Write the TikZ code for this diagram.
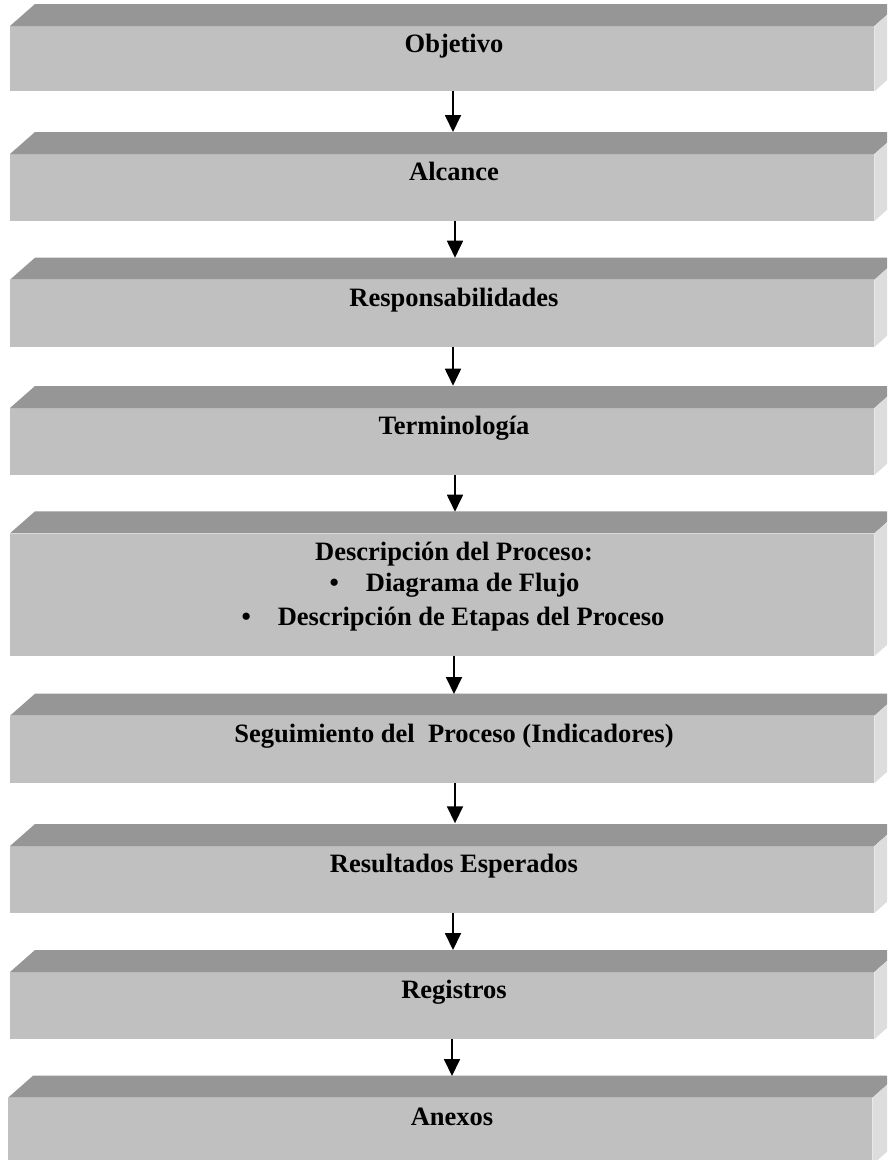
\documentclass[tikz,border=0pt]{standalone}
\usepackage{fontspec}
\setmainfont{Liberation Serif}
\usetikzlibrary{arrows.meta}
\definecolor{frontc}{HTML}{C0C0C0}
\definecolor{topc}{HTML}{969696}
\definecolor{sidec}{HTML}{DDDDDD}
\tikzset{
 frontbox/.style={fill=frontc, draw=none, rectangle, inner sep=0pt, minimum width=864pt, anchor=north west},
 topface/.style={fill=topc},
 sideface/.style={fill=sidec},
 lbl/.style={font=\fontsize{26.5}{32}\selectfont\bfseries, inner sep=0pt, anchor=base, text=black},
 arr/.style={-{Triangle[width=16pt,length=17pt]}, line width=1.8pt, black},
}
\newcommand\pbox[4]{% name, x, front, bottom
 \node[frontbox, minimum height={#4-#3}] (#1) at (#2,#3) {};
 \fill[topface] (#1.north west) -- ++(25,-22) -- ++(864,0) -- (#1.north east) -- cycle;
 \fill[sideface] (#1.north east) -- ++(25,-22) -- ++(0,#4-#3) -- (#1.south east) -- cycle;
}
\begin{document}
\begin{tikzpicture}[x=1pt,y=-1pt]
\useasboundingbox (0,0) rectangle (887,1160);
\clip (0,0) rectangle (887,1160);
\fill[white] (0,0) rectangle (887,1160);
% boxes
\pbox{b1}{10}{26}{91}
\pbox{b2}{10}{154}{220.7}
\pbox{b3}{10}{279.7}{346.7}
\pbox{b4}{10}{408}{474.7}
\pbox{b5}{10}{533.3}{655.7}
\pbox{b6}{10}{715.7}{782.7}
\pbox{b7}{10}{846}{912.7}
\pbox{b8}{10}{972}{1038.7}
\pbox{b9}{8}{1097.7}{1164.4}
% labels
\node[lbl] (l1) at (454,52.7) {Objetivo};
\node[lbl] (l2) at (454,180.7) {Alcance};
\node[lbl] (l3) at (454,306.5) {Responsabilidades};
\node[lbl] (l4) at (454,434.8) {Terminología};
\node[lbl] (l5a) at (454,560) {Descripción del Proceso:};
\node[lbl] (l5b) at (454.5,591.7) {\textbullet\hspace{27pt}Diagrama de Flujo};
\node[lbl] (l5c) at (453,625) {\textbullet\hspace{27pt}Descripción de Etapas del Proceso};
\node[lbl] (l6) at (454,742.7) {Seguimiento del\ \ Proceso (Indicadores)};
\node[lbl] (l7) at (454,872.8) {Resultados Esperados};
\node[lbl] (l8) at (454,998.8) {Registros};
\node[lbl] (l9) at (452,1125) {Anexos};
% arrow ends
\coordinate (c1) at (453,132);
\coordinate (c2) at (455,257.7);
\coordinate (c3) at (453,385.7);
\coordinate (c4) at (455,511.7);
\coordinate (c5) at (454,694);
\coordinate (c6) at (455,823.3);
\coordinate (c7) at (453,950);
\coordinate (c8) at (452,1076);
\draw[arr] (b1.south -| c1) -- (c1);
\draw[arr] (b2.south -| c2) -- (c2);
\draw[arr] (b3.south -| c3) -- (c3);
\draw[arr] (b4.south -| c4) -- (c4);
\draw[arr] (b5.south -| c5) -- (c5);
\draw[arr] (b6.south -| c6) -- (c6);
\draw[arr] (b7.south -| c7) -- (c7);
\draw[arr] (b8.south -| c8) -- (c8);
\end{tikzpicture}
\end{document}
